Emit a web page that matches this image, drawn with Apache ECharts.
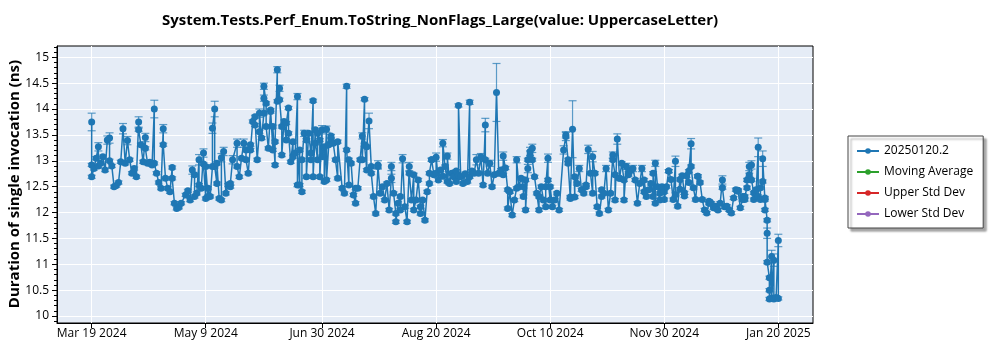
<!DOCTYPE html>
<html>
<head>
<meta charset="utf-8">
<script src="https://cdn.jsdelivr.net/npm/echarts@6/dist/echarts.min.js"></script>
<style>
  html, body { margin: 0; padding: 0; background: #fff; }
  #chart { width: 1000px; height: 350px; }
</style>
</head>
<body>
<div id="chart"></div>
<script>
// chart title and labels
var chartTitle = 'System.Tests.Perf_Enum.ToString_NonFlags_Large(value: UppercaseLetter)';
var yAxisTitle = 'Duration of single invocation (ns)';
var seriesNames = ['20250120.2', 'Moving Average', 'Upper Std Dev', 'Lower Std Dev'];
var seriesColors = ['#1f77b4', '#2ca02c', '#d62728', '#9467bd'];

// x axis tick dates and y axis tick values
var tickDates = ['2024-03-19', '2024-05-09', '2024-06-30', '2024-08-20', '2024-10-10', '2024-11-30', '2025-01-20'];
var yTicks = [10, 10.5, 11, 11.5, 12, 12.5, 13, 13.5, 14, 14.5, 15];

// run dates (one entry per measurement)
var runDates = [
  // Mar 2024
  '2024-03-19','2024-03-19','2024-03-19','2024-03-20','2024-03-21','2024-03-22','2024-03-22','2024-03-23','2024-03-24','2024-03-25','2024-03-26','2024-03-27','2024-03-27','2024-03-28','2024-03-29','2024-03-30','2024-03-31',
  // Apr 2024
  '2024-04-01','2024-04-02','2024-04-03','2024-04-04','2024-04-05','2024-04-06','2024-04-07','2024-04-08','2024-04-09','2024-04-09','2024-04-10','2024-04-11','2024-04-12','2024-04-12','2024-04-13','2024-04-14','2024-04-15','2024-04-16','2024-04-16','2024-04-17','2024-04-18','2024-04-19','2024-04-20','2024-04-20','2024-04-21','2024-04-22','2024-04-23','2024-04-24','2024-04-24','2024-04-25','2024-04-26','2024-04-27','2024-04-28','2024-04-30',
  // May 2024
  '2024-05-01','2024-05-02','2024-05-03','2024-05-04','2024-05-04','2024-05-05','2024-05-06','2024-05-06','2024-05-07','2024-05-08','2024-05-08','2024-05-09','2024-05-09','2024-05-10','2024-05-10','2024-05-11','2024-05-12','2024-05-12','2024-05-13','2024-05-13','2024-05-14','2024-05-14','2024-05-15','2024-05-16','2024-05-16','2024-05-17','2024-05-18','2024-05-19','2024-05-20','2024-05-20','2024-05-21','2024-05-23','2024-05-23','2024-05-24','2024-05-25','2024-05-26','2024-05-27','2024-05-27','2024-05-28','2024-05-29','2024-05-29','2024-05-30','2024-05-31','2024-05-31',
  // Jun 2024
  '2024-06-01','2024-06-02','2024-06-02','2024-06-03','2024-06-04','2024-06-04','2024-06-04','2024-06-05','2024-06-05','2024-06-06','2024-06-07','2024-06-07','2024-06-08','2024-06-08','2024-06-09','2024-06-09','2024-06-10','2024-06-10','2024-06-11','2024-06-11','2024-06-12','2024-06-12','2024-06-13','2024-06-14','2024-06-14','2024-06-15','2024-06-15','2024-06-16','2024-06-17','2024-06-17','2024-06-18','2024-06-19','2024-06-19','2024-06-20','2024-06-20','2024-06-21','2024-06-21','2024-06-22','2024-06-23','2024-06-23','2024-06-24','2024-06-25','2024-06-25','2024-06-26','2024-06-26','2024-06-27','2024-06-27','2024-06-28','2024-06-28','2024-06-29','2024-06-29','2024-06-30','2024-06-30',
  // Jul 2024
  '2024-07-01','2024-07-01','2024-07-02','2024-07-02','2024-07-03','2024-07-04','2024-07-04','2024-07-05','2024-07-06','2024-07-07','2024-07-07','2024-07-09','2024-07-10','2024-07-11','2024-07-11','2024-07-12','2024-07-12','2024-07-13','2024-07-14','2024-07-15','2024-07-15','2024-07-16','2024-07-17','2024-07-18','2024-07-18','2024-07-19','2024-07-19','2024-07-20','2024-07-20','2024-07-21','2024-07-22','2024-07-22','2024-07-23','2024-07-24','2024-07-25','2024-07-25','2024-07-26','2024-07-27','2024-07-28','2024-07-29','2024-07-30','2024-07-31','2024-07-31',
  // Aug 2024
  '2024-08-01','2024-08-02','2024-08-02','2024-08-03','2024-08-04','2024-08-04','2024-08-05','2024-08-06','2024-08-07','2024-08-08','2024-08-08','2024-08-09','2024-08-10','2024-08-10','2024-08-11','2024-08-12','2024-08-13','2024-08-13','2024-08-14','2024-08-15','2024-08-16','2024-08-17','2024-08-17','2024-08-18','2024-08-18','2024-08-19','2024-08-20','2024-08-20','2024-08-21','2024-08-22','2024-08-23','2024-08-23','2024-08-24','2024-08-25','2024-08-25','2024-08-26','2024-08-27','2024-08-28','2024-08-28','2024-08-29','2024-08-29','2024-08-30','2024-08-30','2024-08-31',
  // Sep 2024
  '2024-09-01','2024-09-02','2024-09-03','2024-09-04','2024-09-04','2024-09-05','2024-09-06','2024-09-07','2024-09-08','2024-09-09','2024-09-10','2024-09-11','2024-09-11','2024-09-12','2024-09-13','2024-09-14','2024-09-15','2024-09-16','2024-09-17','2024-09-18','2024-09-19','2024-09-19','2024-09-20','2024-09-21','2024-09-21','2024-09-22','2024-09-23','2024-09-24','2024-09-25','2024-09-25','2024-09-26','2024-09-27','2024-09-28','2024-09-28','2024-09-29','2024-09-29','2024-09-30','2024-09-30',
  // Oct 2024
  '2024-10-01','2024-10-01','2024-10-02','2024-10-02','2024-10-03','2024-10-04','2024-10-05','2024-10-05','2024-10-06','2024-10-07','2024-10-08','2024-10-08','2024-10-09','2024-10-09','2024-10-10','2024-10-10','2024-10-11','2024-10-12','2024-10-13','2024-10-14','2024-10-16','2024-10-17','2024-10-17','2024-10-18','2024-10-18','2024-10-19','2024-10-19','2024-10-20','2024-10-21','2024-10-21','2024-10-22','2024-10-23','2024-10-24','2024-10-25','2024-10-26','2024-10-26','2024-10-27','2024-10-28','2024-10-29','2024-10-29','2024-10-30','2024-10-31',
  // Nov 2024
  '2024-11-01','2024-11-02','2024-11-02','2024-11-03','2024-11-04','2024-11-05','2024-11-06','2024-11-07','2024-11-07','2024-11-08','2024-11-08','2024-11-09','2024-11-10','2024-11-10','2024-11-11','2024-11-12','2024-11-12','2024-11-13','2024-11-14','2024-11-14','2024-11-15','2024-11-16','2024-11-17','2024-11-18','2024-11-19','2024-11-20','2024-11-21','2024-11-21','2024-11-22','2024-11-23','2024-11-24','2024-11-25','2024-11-25','2024-11-26','2024-11-26','2024-11-27','2024-11-28','2024-11-28','2024-11-29','2024-11-29','2024-11-30','2024-11-30',
  // Dec 2024
  '2024-12-01','2024-12-02','2024-12-02','2024-12-03','2024-12-04','2024-12-05','2024-12-05','2024-12-06','2024-12-07','2024-12-07','2024-12-08','2024-12-09','2024-12-09','2024-12-10','2024-12-11','2024-12-11','2024-12-12','2024-12-12','2024-12-13','2024-12-14','2024-12-15','2024-12-15','2024-12-16','2024-12-17','2024-12-18','2024-12-19','2024-12-20','2024-12-20','2024-12-21','2024-12-22','2024-12-23','2024-12-24','2024-12-25','2024-12-26','2024-12-26','2024-12-27','2024-12-28','2024-12-29','2024-12-30','2024-12-31',
  // Jan 2025
  '2025-01-01','2025-01-02','2025-01-02','2025-01-03','2025-01-04','2025-01-04','2025-01-05','2025-01-05','2025-01-06','2025-01-06','2025-01-07','2025-01-07','2025-01-08','2025-01-08','2025-01-09','2025-01-09','2025-01-10','2025-01-10','2025-01-11','2025-01-11','2025-01-12','2025-01-12','2025-01-13','2025-01-13','2025-01-14','2025-01-14','2025-01-14','2025-01-15','2025-01-15','2025-01-15','2025-01-16','2025-01-16','2025-01-16','2025-01-17','2025-01-17','2025-01-18','2025-01-18','2025-01-19','2025-01-20','2025-01-20'
];

// measured duration (ns), same order as runDates
var durations = [
  13.75,12.92,12.69,12.85,13.05,13.27,12.90,12.95,13.08,12.82,13.40,13.44,13.00,12.90,12.50,12.52,12.58,
  12.98,13.62,12.95,13.39,13.02,12.76,12.85,12.69,13.75,13.60,13.31,12.98,13.45,13.24,12.95,12.97,12.92,14.00,12.95,12.76,12.58,12.47,13.62,13.31,12.66,12.47,12.40,12.87,12.66,12.18,12.08,12.10,12.18,12.34,
  12.42,12.24,12.82,12.73,12.31,12.37,13.02,12.53,12.47,13.15,12.94,12.27,12.89,12.31,12.47,12.31,12.89,13.63,14.00,12.89,12.56,12.95,12.27,12.24,13.06,13.18,12.37,12.53,12.50,12.56,13.02,13.34,12.89,12.69,13.05,13.34,13.21,13.02,12.76,13.31,13.21,13.76,13.69,13.85,
  13.02,13.56,13.92,13.44,13.92,14.21,14.44,14.11,13.66,13.24,13.98,13.95,13.21,13.66,12.92,13.37,14.76,14.15,14.40,14.18,13.66,13.11,13.76,13.40,13.73,14.02,13.53,12.98,13.37,13.08,13.15,14.24,12.53,13.21,12.53,12.40,13.02,13.53,13.40,12.69,13.53,13.15,13.02,14.16,12.69,13.60,13.34,13.02,13.53,13.40,12.69,13.60,13.08,
  13.27,12.60,13.61,12.63,13.31,13.40,13.48,13.34,13.02,12.66,13.37,12.47,12.37,14.44,13.21,12.53,13.02,12.95,12.34,12.18,12.47,12.47,13.02,13.48,13.02,14.19,13.31,12.82,13.27,13.77,12.89,12.76,12.31,11.98,12.89,12.92,12.37,12.50,12.24,12.56,12.05,12.66,12.89,
  12.37,11.98,11.82,12.18,12.31,12.05,13.04,12.11,11.82,12.89,12.76,12.24,12.73,12.05,12.24,12.63,12.11,11.98,12.24,11.85,12.40,12.56,12.76,13.02,13.02,12.73,12.76,13.07,12.63,12.82,12.70,13.34,12.89,12.60,13.09,12.56,12.76,12.70,12.69,12.80,12.60,12.72,14.07,12.69,
  12.56,12.75,12.60,14.13,12.69,12.80,12.76,13.02,12.76,13.08,12.53,13.69,13.02,12.76,12.95,12.50,12.73,14.32,12.76,12.82,12.73,13.09,12.86,12.44,12.08,12.40,11.95,12.24,12.47,13.02,12.50,12.66,12.50,12.31,12.63,12.05,12.85,13.02,
  13.11,13.18,13.24,13.02,12.69,12.37,12.05,12.31,12.50,12.24,12.11,12.50,13.05,12.63,12.24,12.50,12.11,12.24,12.37,12.05,13.21,13.47,13.50,13.02,12.95,12.27,12.30,13.61,12.30,12.69,12.56,12.85,12.44,12.37,12.50,12.53,13.22,12.76,12.37,13.08,12.76,12.11,
  11.98,12.31,12.44,12.37,12.85,12.05,12.37,13.11,13.02,12.73,12.24,13.42,12.66,12.66,12.95,12.63,12.24,12.89,12.76,12.73,12.82,12.85,12.63,12.18,12.56,12.85,12.40,12.63,12.31,12.44,12.56,12.31,12.76,12.18,12.95,12.50,12.24,12.37,12.44,12.50,12.40,12.25,
  12.50,12.80,12.80,12.64,12.25,12.99,12.35,12.12,12.64,12.45,12.71,12.38,12.32,12.71,12.58,12.80,13.33,12.89,12.48,12.25,12.70,12.70,12.58,12.25,12.05,11.99,12.18,12.22,12.18,12.09,12.12,12.05,12.18,12.63,12.48,12.11,12.12,12.05,11.99,12.28,
  12.44,12.43,12.41,12.09,12.25,12.31,12.25,12.31,12.48,12.63,12.73,12.89,12.92,12.63,12.38,12.25,12.44,12.31,13.26,12.31,12.25,12.48,12.60,13.04,12.25,12.05,12.28,11.85,11.60,11.04,10.74,10.50,10.33,11.15,10.35,11.08,10.33,10.36,11.46,10.34
];

// half-height of each error bar (ns), same order as runDates
var errors = [
  .17,.03,.03,.03,.03,.08,.03,.03,.03,.03,.08,.1,.03,.03,.03,.03,.03,
  .03,.1,.03,.08,.03,.03,.03,.03,.1,.03,.03,.03,.08,.03,.03,.03,.03,.17,.03,.03,.03,.03,.08,.03,.03,.03,.03,.03,.03,.03,.03,.03,.03,.03,
  .03,.03,.08,.03,.03,.03,.1,.03,.03,.08,.03,.03,.03,.03,.03,.03,.03,.1,.15,.03,.03,.03,.03,.03,.08,.08,.03,.03,.03,.03,.08,.08,.03,.03,.03,.08,.03,.03,.03,.03,.03,.03,.03,.03,
  .03,.03,.08,.03,.03,.06,.06,.03,.03,.03,.03,.03,.03,.03,.03,.03,.06,.03,.06,.03,.03,.03,.03,.03,.03,.03,.03,.03,.03,.03,.03,.06,.03,.03,.03,.03,.03,.06,.03,.03,.03,.03,.03,.03,.03,.03,.03,.03,.03,.03,.03,.08,.03,
  .03,.03,.06,.03,.03,.03,.03,.03,.03,.03,.03,.03,.03,.04,.03,.03,.03,.03,.03,.03,.03,.03,.03,.06,.03,.03,.03,.03,.03,.15,.03,.03,.03,.03,.03,.08,.03,.03,.03,.03,.03,.08,.08,
  .03,.03,.03,.03,.03,.03,.08,.03,.03,.08,.03,.03,.03,.03,.03,.03,.03,.03,.03,.03,.03,.03,.03,.03,.03,.03,.03,.08,.03,.03,.03,.07,.03,.03,.06,.03,.03,.03,.03,.03,.03,.03,.03,.03,
  .03,.03,.03,.04,.03,.03,.03,.1,.03,.06,.03,.13,.03,.03,.06,.03,.03,.56,.03,.03,.03,.08,.03,.03,.03,.03,.03,.03,.03,.06,.03,.03,.03,.03,.03,.03,.08,.03,
  .08,.08,.08,.03,.03,.03,.03,.03,.03,.03,.03,.03,.08,.03,.03,.03,.03,.03,.03,.03,.08,.08,.06,.03,.03,.03,.03,.55,.03,.03,.03,.06,.03,.03,.03,.03,.08,.03,.03,.1,.03,.03,
  .03,.03,.03,.03,.06,.03,.03,.06,.03,.03,.03,.1,.03,.03,.03,.03,.03,.06,.03,.03,.06,.06,.03,.03,.03,.06,.03,.03,.03,.03,.03,.03,.03,.03,.06,.03,.03,.03,.03,.03,.03,.03,
  .03,.03,.03,.03,.03,.1,.03,.03,.03,.03,.03,.03,.03,.03,.03,.03,.1,.03,.03,.03,.03,.03,.03,.03,.03,.03,.03,.03,.03,.03,.03,.03,.03,.08,.03,.03,.03,.03,.03,.03,
  .03,.03,.03,.03,.03,.03,.03,.03,.03,.03,.03,.08,.08,.03,.03,.03,.03,.03,.18,.03,.03,.03,.03,.15,.03,.03,.03,.03,.1,.03,.03,.03,.03,.12,.03,.12,.03,.03,.12,.03
];

var FONT = '"Open Sans", "Noto Sans", sans-serif';
var monthNames = ['Jan','Feb','Mar','Apr','May','Jun','Jul','Aug','Sep','Oct','Nov','Dec'];

function toTs(s) {
  return new Date(s + 'T00:00:00').getTime();
}

var DAY = 24 * 3600 * 1000;
var xMin = toTs(tickDates[0]) - 15.5 * DAY;
var xMax = toTs(tickDates[tickDates.length - 1]) + 15.5 * DAY;
var tickTs = tickDates.map(toTs);

// minor ticks on y (every 0.1)
var yMinor = [];
for (var v = 99; v <= 152; v++) yMinor.push(v / 10);

var lineData = [];
var errData = [];
for (var i = 0; i < runDates.length; i++) {
  var t = toTs(runDates[i]);
  lineData.push([t, durations[i]]);
  var e = errors[i] || 0.03;
  errData.push([t, durations[i] - e, durations[i] + e]);
}

var chart = echarts.init(document.getElementById('chart'), null, { renderer: 'canvas' });

var option = {
  animation: false,
  backgroundColor: '#fff',
  title: {
    text: chartTitle,
    left: 435,
    top: 8,
    textAlign: 'center',
    textStyle: { fontFamily: FONT, fontSize: 15, fontWeight: 'bold', color: '#000' }
  },
  // y axis title, rotated
  graphic: [{
    type: 'text',
    x: 15, y: 184,
    rotation: Math.PI / 2,
    style: {
      text: yAxisTitle,
      fontFamily: FONT, fontSize: 15, fontWeight: 'bold', fill: '#000',
      align: 'center', verticalAlign: 'middle'
    }
  }],
  grid: {
    left: 57, right: 187, top: 46, bottom: 27,
    outerBoundsMode: 'none',
    containLabel: false,
    show: true, backgroundColor: '#E5ECF6', borderColor: '#000', borderWidth: 1
  },
  legend: {
    orient: 'vertical',
    left: 848, top: 136,
    data: seriesNames,
    itemWidth: 22, itemHeight: 7, itemGap: 7,
    padding: [8, 10, 7, 8],
    backgroundColor: '#fff',
    borderColor: '#444', borderWidth: 1,
    shadowColor: 'rgba(0,0,0,0.35)', shadowBlur: 2, shadowOffsetX: 3, shadowOffsetY: 3,
    textStyle: { fontFamily: FONT, fontSize: 12, color: '#000', lineHeight: 14 }
  },
  xAxis: {
    type: 'value',
    min: xMin, max: xMax,
    axisLine: { show: true, lineStyle: { color: '#000' } },
    axisTick: { show: true, length: 5, customValues: tickTs, lineStyle: { color: '#000' } },
    axisLabel: {
      customValues: tickTs, margin: 5, color: '#000', fontFamily: FONT, fontSize: 12,
      formatter: function (val) {
        var d = new Date(val);
        return monthNames[d.getMonth()] + ' ' + d.getDate() + ' ' + d.getFullYear();
      }
    },
    splitLine: { show: true, lineStyle: { color: '#fff', width: 1 } }
  },
  yAxis: [{
    type: 'value',
    min: 9.865, max: 15.218,
    axisLine: { show: true, lineStyle: { color: '#000' } },
    axisTick: { show: true, length: 5, customValues: yTicks, lineStyle: { color: '#000' } },
    axisLabel: { customValues: yTicks, margin: 8, color: '#000', fontFamily: FONT, fontSize: 12 },
    splitLine: { show: true, lineStyle: { color: '#fff', width: 1 } }
  }, {
    type: 'value',
    position: 'left',
    min: 9.865, max: 15.218,
    axisLine: { show: false },
    axisTick: { show: true, length: 3, customValues: yMinor, lineStyle: { color: '#000' } },
    axisLabel: { show: false },
    splitLine: { show: false }
  }],
  series: [{
    name: 'errorbars',
    type: 'custom',
    data: errData,
    encode: { x: 0, y: [1, 2] },
    z: 2,
    renderItem: function (params, api) {
      var x = api.value(0);
      var top = api.coord([x, api.value(2)]);
      var bot = api.coord([x, api.value(1)]);
      var hw = 4;
      var st = { stroke: '#1f77b4', lineWidth: 1.2, opacity: 0.7 };
      return {
        type: 'group',
        children: [
          { type: 'line', shape: { x1: top[0], y1: top[1], x2: bot[0], y2: bot[1] }, style: st },
          { type: 'line', shape: { x1: top[0] - hw, y1: top[1], x2: top[0] + hw, y2: top[1] }, style: st },
          { type: 'line', shape: { x1: bot[0] - hw, y1: bot[1], x2: bot[0] + hw, y2: bot[1] }, style: st }
        ]
      };
    }
  }, {
    name: seriesNames[0],
    type: 'line',
    data: lineData,
    color: seriesColors[0],
    symbol: 'circle',
    symbolSize: 7,
    showAllSymbol: true,
    lineStyle: { width: 1.5 },
    z: 4
  }, {
    name: seriesNames[1], type: 'line', data: [], color: seriesColors[1], symbol: 'circle', lineStyle: { width: 1.5 }
  }, {
    name: seriesNames[2], type: 'line', data: [], color: seriesColors[2], symbol: 'circle', lineStyle: { width: 1.5 }
  }, {
    name: seriesNames[3], type: 'line', data: [], color: seriesColors[3], symbol: 'circle', lineStyle: { width: 1.5 }
  }]
};

chart.setOption(option);
</script>
</body>
</html>
